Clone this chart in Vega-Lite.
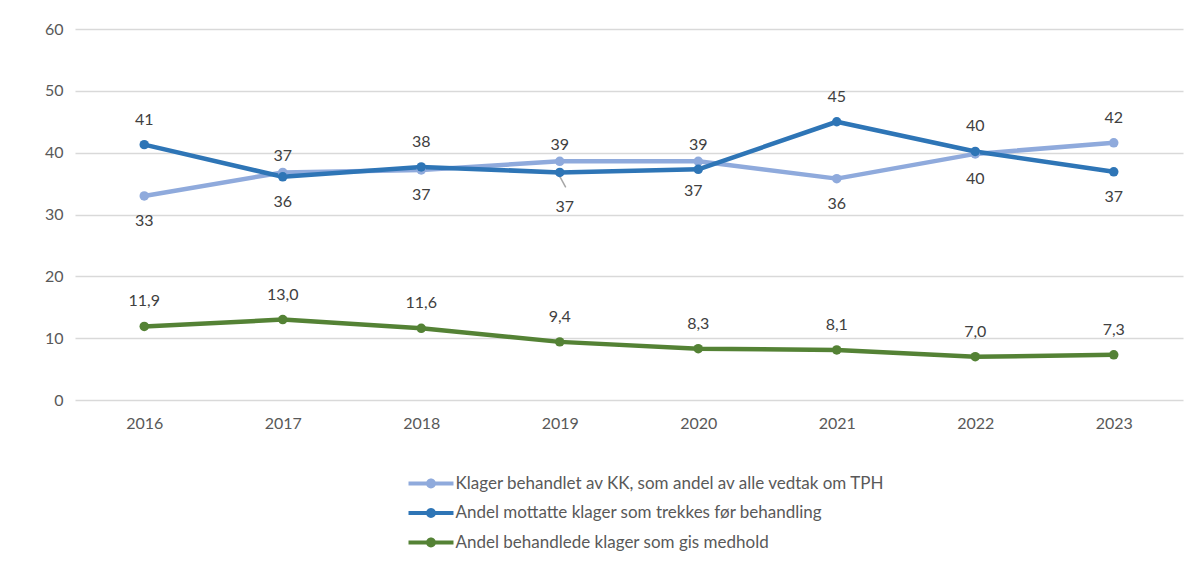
{
  "$schema": "https://vega.github.io/schema/vega-lite/v6.json",
  "autosize": "none",
  "width": 1108,
  "height": 371,
  "padding": {"left": 75, "top": 29, "right": 19, "bottom": 174},
  "background": "white",
  "config": {
    "locale": {"number": {"decimal": ",", "thousands": " ", "grouping": [3], "currency": ["", " kr"]}},
    "view": {"stroke": null},
    "font": "Lato",
    "axis": {"labelFont": "Lato", "labelFontSize": 16, "labelColor": "#595959"},
    "legend": {"labelFont": "Lato", "labelFontSize": 17, "labelColor": "#595959"}
  },
  "data": {
    "values": [
      {"year": "2016", "series": "Klager behandlet av KK, som andel av alle vedtak om TPH", "value": 33.0},
      {"year": "2017", "series": "Klager behandlet av KK, som andel av alle vedtak om TPH", "value": 36.8},
      {"year": "2018", "series": "Klager behandlet av KK, som andel av alle vedtak om TPH", "value": 37.2},
      {"year": "2019", "series": "Klager behandlet av KK, som andel av alle vedtak om TPH", "value": 38.6},
      {"year": "2020", "series": "Klager behandlet av KK, som andel av alle vedtak om TPH", "value": 38.6},
      {"year": "2021", "series": "Klager behandlet av KK, som andel av alle vedtak om TPH", "value": 35.8},
      {"year": "2022", "series": "Klager behandlet av KK, som andel av alle vedtak om TPH", "value": 39.8},
      {"year": "2023", "series": "Klager behandlet av KK, som andel av alle vedtak om TPH", "value": 41.6},
      {"year": "2016", "series": "Andel mottatte klager som trekkes før behandling", "value": 41.3},
      {"year": "2017", "series": "Andel mottatte klager som trekkes før behandling", "value": 36.1},
      {"year": "2018", "series": "Andel mottatte klager som trekkes før behandling", "value": 37.7},
      {"year": "2019", "series": "Andel mottatte klager som trekkes før behandling", "value": 36.8},
      {"year": "2020", "series": "Andel mottatte klager som trekkes før behandling", "value": 37.3},
      {"year": "2021", "series": "Andel mottatte klager som trekkes før behandling", "value": 45.0},
      {"year": "2022", "series": "Andel mottatte klager som trekkes før behandling", "value": 40.2},
      {"year": "2023", "series": "Andel mottatte klager som trekkes før behandling", "value": 36.9},
      {"year": "2016", "series": "Andel behandlede klager som gis medhold", "value": 11.9},
      {"year": "2017", "series": "Andel behandlede klager som gis medhold", "value": 13.0},
      {"year": "2018", "series": "Andel behandlede klager som gis medhold", "value": 11.6},
      {"year": "2019", "series": "Andel behandlede klager som gis medhold", "value": 9.4},
      {"year": "2020", "series": "Andel behandlede klager som gis medhold", "value": 8.3},
      {"year": "2021", "series": "Andel behandlede klager som gis medhold", "value": 8.1},
      {"year": "2022", "series": "Andel behandlede klager som gis medhold", "value": 7.0},
      {"year": "2023", "series": "Andel behandlede klager som gis medhold", "value": 7.3}
    ]
  },
  "transform": [
    {"calculate": "indexof(['Klager behandlet av KK, som andel av alle vedtak om TPH','Andel mottatte klager som trekkes før behandling','Andel behandlede klager som gis medhold'], datum.series)", "as": "sidx"}
  ],
  "encoding": {
    "x": {
      "field": "year", "type": "ordinal",
      "scale": {"type": "point", "padding": 0.5},
      "axis": {"title": null, "labelAngle": 0, "domain": false, "ticks": false, "grid": false, "labelPadding": 15}
    },
    "y": {
      "field": "value", "type": "quantitative",
      "scale": {"domain": [0, 60], "nice": false},
      "axis": {"title": null, "values": [0, 10, 20, 30, 40, 50, 60], "domain": false, "ticks": false, "gridColor": "#D9D9D9", "gridWidth": 1.3, "labelPadding": 12}
    },
    "color": {
      "field": "series", "type": "nominal",
      "scale": {
        "domain": ["Klager behandlet av KK, som andel av alle vedtak om TPH", "Andel mottatte klager som trekkes før behandling", "Andel behandlede klager som gis medhold"],
        "range": ["#8FAADC", "#2E75B6", "#548235"]
      },
      "legend": {
        "title": null,
        "orient": "none",
        "legendX": 344.5,
        "legendY": 443,
        "direction": "vertical",
        "symbolType": "M-2,-0.18H2V0.18H-2Z M-0.44,0A0.44,0.44 0 1,1 0.44,0A0.44,0.44 0 1,1 -0.44,0Z",
        "symbolSize": 506,
        "symbolStrokeWidth": 0,
        "symbolOpacity": 1,
        "rowPadding": 9.5,
        "labelOffset": 13,
        "labelLimit": 600,
        "encode": {"symbols": {"update": {"fill": {"scale": "color", "field": "value"}, "stroke": {"value": "transparent"}, "opacity": {"value": 1}}}}
      }
    }
  },
  "layer": [
    {
      "transform": [{"filter": "datum.sidx==1 && datum.year=='2019'"}],
      "mark": {"type": "rule", "color": "#A6A6A6", "strokeWidth": 1.5, "xOffset": 0, "yOffset": 4, "x2Offset": 6, "y2Offset": 15},
      "encoding": {"x2": {"field": "year"}, "y2": {"field": "value"}, "color": {"value": "#A6A6A6"}}
    },
    {
      "mark": {"type": "line", "strokeWidth": 4.5, "strokeCap": "round", "strokeJoin": "round"},
      "encoding": {"order": {"field": "year"}, "detail": {"field": "series"}}
    },
    {
      "mark": {"type": "point", "filled": true, "opacity": 1, "size": 90}
    },
    {
      "transform": [{"filter": "(datum.sidx==1 && indexof(['2016','2018','2021','2022'], datum.year)>=0) || (datum.sidx==0 && datum.year=='2023') || datum.sidx==2"}],
      "mark": {"type": "text", "dy": -25, "fontSize": 16, "font": "Lato", "color": "#404040", "baseline": "middle"},
      "encoding": {"text": {"condition": {"test": "datum.sidx==2", "field": "value", "type": "quantitative", "format": ".1f"}, "field": "value", "type": "quantitative", "format": ".0f"}, "color": {"value": "#404040"}}
    },
    {
      "transform": [{"filter": "(datum.sidx==0 && indexof(['2016','2018','2021','2022'], datum.year)>=0) || (datum.sidx==1 && indexof(['2017','2023'], datum.year)>=0)"}],
      "mark": {"type": "text", "dy": 25, "fontSize": 16, "font": "Lato", "color": "#404040", "baseline": "middle"},
      "encoding": {"text": {"field": "value", "type": "quantitative", "format": ".0f"}, "color": {"value": "#404040"}}
    },
    {
      "transform": [{"filter": "datum.sidx==0 && indexof(['2017','2019','2020'], datum.year)>=0"}],
      "mark": {"type": "text", "dy": -16, "fontSize": 16, "font": "Lato", "color": "#404040", "baseline": "middle"},
      "encoding": {"text": {"field": "value", "type": "quantitative", "format": ".0f"}, "color": {"value": "#404040"}}
    },
    {
      "transform": [{"filter": "datum.sidx==1 && datum.year=='2020'"}],
      "mark": {"type": "text", "dy": 22, "dx": -5, "fontSize": 16, "font": "Lato", "color": "#404040", "baseline": "middle"},
      "encoding": {"text": {"field": "value", "type": "quantitative", "format": ".0f"}, "color": {"value": "#404040"}}
    },
    {
      "transform": [{"filter": "datum.sidx==1 && datum.year=='2019'"}],
      "mark": {"type": "text", "dy": 35, "dx": 5, "fontSize": 16, "font": "Lato", "color": "#404040", "baseline": "middle"},
      "encoding": {"text": {"field": "value", "type": "quantitative", "format": ".0f"}, "color": {"value": "#404040"}}
    }
  ]
}
